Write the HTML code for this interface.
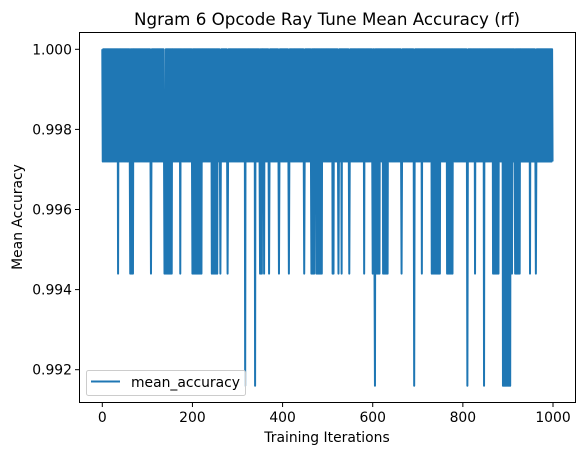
<!DOCTYPE html>
<html><head><meta charset="utf-8"><style>
html,body{margin:0;padding:0;background:#fff;}
svg{display:block;font-family:"DejaVu Sans","Liberation Sans",sans-serif;}
</style></head><body>
<svg id="chart" width="585" height="455" viewBox="0 0 585 455" xmlns="http://www.w3.org/2000/svg">
<rect x="0" y="0" width="585" height="455" fill="#fff"/>
<text x="327" y="25" text-anchor="middle" font-size="16.7" fill="#000">Ngram 6 Opcode Ray Tune Mean Accuracy (rf)</text>
<g id="plot"></g>
<g id="xticks"></g>
<g id="yticks"></g>
<rect x="79.5" y="32.5" width="496" height="370" fill="none" stroke="#000" stroke-width="1"/>
<text x="327" y="442" text-anchor="middle" font-size="13.9" fill="#000">Training Iterations</text>
<text transform="translate(22,217) rotate(-90)" text-anchor="middle" font-size="13.9" fill="#000">Mean Accuracy</text>
<g>
<rect x="86.5" y="370.5" width="159" height="25" rx="2" fill="#fff" fill-opacity="0.8" stroke="#ccc" stroke-width="1"/>
<line x1="91" y1="381.5" x2="120" y2="381.5" stroke="#1f77b4" stroke-width="2"/>
<text x="131" y="387" font-size="13.9" fill="#000">mean_accuracy</text>
</g>
</svg>
<script>
const levels = [1.0, 0.9972, 0.9944, 0.9916];
const codeLines = [
"ababababab"+"ababababab"+"ababababab"+"ababacabab"+"ababababab",
"ababababab"+"abcacacaca"+"ababababab"+"ababababab"+"ababababab",
"ababababcb"+"ababababab"+"ababababab"+"ababababcb"+"cacacacaca",
"cacacaabab"+"ababababab"+"abacababab"+"ababababab"+"ababababab",
"cacacacaca"+"cacacacaca"+"caabababab"+"ababababab"+"abacacacac",
"acacacabab"+"abcbababab"+"ababababcb"+"ababababab"+"ababababab",
"ababababab"+"abababadab"+"ababababab"+"ababababad"+"ababababab",
"cacacaabac"+"ababababab"+"cbabababab"+"ababababab"+"abcbababab",
"ababababab"+"ababcbabab"+"ababababab"+"ababababab"+"ababababcb",
"ababababab"+"ababcacaca"+"caabacacac"+"acacacacab"+"ababababab",
"ababababab"+"acacababab"+"ababcbabab"+"acabababab"+"ababababcb",
"ababababab"+"ababababab"+"ababababab"+"acabababab"+"ababababab",
"cacacdacac"+"acacacabab"+"abacacacac"+"acacababab"+"ababababab",
"ababababab"+"ababcbabab"+"ababababab"+"ababababab"+"abdbababab",
"ababababac"+"ababababab"+"ababababab"+"acacacacac"+"acacacacac",
"ababababab"+"ababacacac"+"acacacacab"+"ababababab"+"ababababab",
"ababababab"+"dbabababab"+"abababacab"+"ababababab"+"abababadab",
"ababababab"+"abababacac"+"acacacacac"+"ababababad"+"adadadadad",
"adadadacac"+"abababcaca"+"cacacacaab"+"ababababab"+"ababababac",
"ababababab"+"abcbababab"+"ababababab"+"ababababab"+"ababababab"
];
const xTicks = [0, 200, 400, 600, 800, 1000];
const yTicks = [0.992, 0.994, 0.996, 0.998, 1.000];
const yTickLabels = ["0.992", "0.994", "0.996", "0.998", "1.000"];
const seriesName = "mean_accuracy";

const NS = "http://www.w3.org/2000/svg";
const codes = codeLines.join("");
const values = [];
for (let i = 0; i < codes.length; i++) values.push(levels["abcd".indexOf(codes[i])]);

function xScale(v){ return 102.3 + (v - 0) * (553.0 - 102.3) / 1000; }
function yScale(v){ return 49.3 + (1.0 - v) * (369.7 - 49.3) / 0.008; }

const plot = document.getElementById("plot");
let pts = [];
for (let i = 0; i < values.length; i++) pts.push(xScale(i).toFixed(2) + "," + yScale(values[i]).toFixed(2));
const line = document.createElementNS(NS, "polyline");
line.setAttribute("points", pts.join(" "));
line.setAttribute("fill", "none");
line.setAttribute("stroke", "#1f77b4");
line.setAttribute("stroke-width", "2");
line.setAttribute("stroke-linejoin", "round");


plot.appendChild(line);

const xg = document.getElementById("xticks");
xTicks.forEach(t => {
  const x = xScale(t);
  const tk = document.createElementNS(NS, "line");
  tk.setAttribute("x1", x); tk.setAttribute("x2", x);
  tk.setAttribute("y1", 402.5); tk.setAttribute("y2", 407);
  tk.setAttribute("stroke", "#000"); tk.setAttribute("stroke-width", "1");
  
  
  xg.appendChild(tk);
  const tx = document.createElementNS(NS, "text");
  tx.setAttribute("x", x); tx.setAttribute("y", 422);
  tx.setAttribute("text-anchor", "middle"); tx.setAttribute("font-size", "13.9");
  tx.textContent = String(t);
  
  
  xg.appendChild(tx);
});

const yg = document.getElementById("yticks");
yTicks.forEach((t, i) => {
  const y = yScale(t);
  const tk = document.createElementNS(NS, "line");
  tk.setAttribute("x1", 75); tk.setAttribute("x2", 79.5);
  tk.setAttribute("y1", y); tk.setAttribute("y2", y);
  tk.setAttribute("stroke", "#000"); tk.setAttribute("stroke-width", "1");
  
  
  yg.appendChild(tk);
  const tx = document.createElementNS(NS, "text");
  tx.setAttribute("x", 72); tx.setAttribute("y", y + 5);
  tx.setAttribute("text-anchor", "end"); tx.setAttribute("font-size", "13.9");
  tx.textContent = yTickLabels[i];
  
  
  yg.appendChild(tx);
});
</script>
</body></html>
